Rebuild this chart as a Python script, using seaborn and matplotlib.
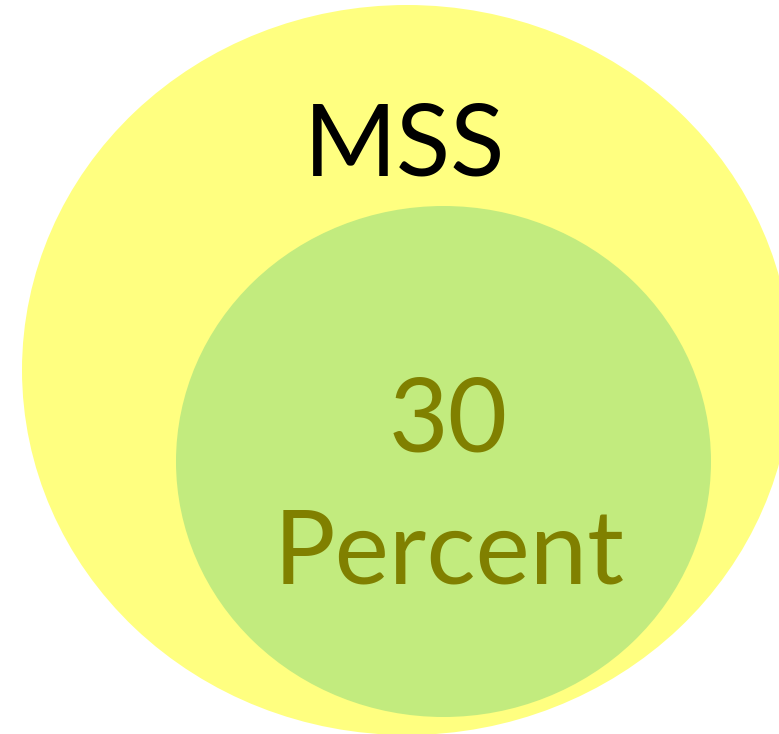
import matplotlib
matplotlib.use("Agg")
import matplotlib.pyplot as plt
from matplotlib.patches import Ellipse
import seaborn as sns

# data
group_names = ["MSS", "Percent"]
group_share = [100, 30]

sns.set_theme(style="white")
plt.rcParams['font.family'] = ['Lato', 'DejaVu Sans']

fig = plt.figure(figsize=(7.79, 7.34), dpi=100)
ax = fig.add_axes([0, 0, 1, 1])
ax.set_xlim(0, 779)
ax.set_ylim(734, 0)
ax.axis('off')

# outer (all MSS) and inner (30 percent) circles
ax.add_patch(Ellipse((407, 370), 770, 730, facecolor='#FFFF80', edgecolor='none'))
ax.add_patch(Ellipse((443.5, 461.5), 535, 511, facecolor='#C2EB7E', edgecolor='none'))

ax.text(405, 175, group_names[0], ha='center', va='baseline', fontsize=72, color='black')
ax.text(448, 452, str(group_share[1]), ha='center', va='baseline', fontsize=74, color='#808000')
ax.text(449, 583, group_names[1], ha='center', va='baseline', fontsize=74, color='#808000')

fig.savefig('out.png', dpi=100)
